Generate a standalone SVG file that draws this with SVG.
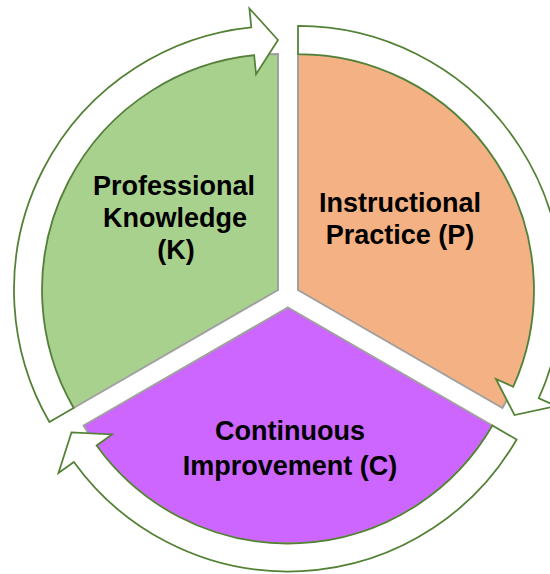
<svg xmlns="http://www.w3.org/2000/svg" width="550" height="574" viewBox="0 0 550 574">
  <style>
    .seg { stroke: #A0A0A0; stroke-width: 2; stroke-linejoin: miter; }
    .arrow { fill: #FFFFFF; stroke: #538135; stroke-width: 1.75; stroke-linejoin: miter; }
    .lbl { font-family: "Liberation Sans", Arial, sans-serif; font-weight: bold; font-size: 27px; fill: #000000; text-anchor: middle; }
  </style>
  <rect x="0" y="0" width="550" height="574" fill="#FFFFFF"/>
  <g id="node-knowledge">
    <path class="seg" fill="#A9D18E" d="M 278 290 L 73.62 408 A 236 236 0 0 1 278 54 Z"/>
    <text class="lbl" x="174" y="195">Professional</text>
    <text class="lbl" x="175" y="227">Knowledge</text>
    <text class="lbl" x="176" y="259">(K)</text>
  </g>
  <g id="node-practice">
    <path class="seg" fill="#F4B183" d="M 298 290 L 298 54 A 236 236 0 0 1 502.38 408 Z"/>
    <text class="lbl" x="400" y="212">Instructional</text>
    <text class="lbl" x="400" y="244">Practice (P)</text>
  </g>
  <g id="node-improvement">
    <path class="seg" fill="#CC66FF" d="M 288 307.5 L 492.38 425.5 A 236 236 0 0 1 83.62 425.5 Z"/>
    <text class="lbl" x="290" y="440">Continuous</text>
    <text class="lbl" x="290" y="475">Improvement (C)</text>
  </g>
  <g id="connectors">
    <path class="arrow" d="M 73.62 408 A 236 236 0 0 1 254.15 55.21 L 256.07 74.11 L 278 40 L 249.40 8.45 L 251.32 27.35 A 264 264 0 0 0 49.37 422 Z"/>
    <path class="arrow" d="M 298 54 A 236 236 0 0 1 513.26 386.74 L 495.93 378.95 L 514.51 415 L 556.13 406.01 L 538.80 398.22 A 264 264 0 0 0 298 26 Z"/>
    <path class="arrow" d="M 492.38 425.5 A 236 236 0 0 1 96.59 445.55 L 112.00 434.44 L 71.49 432.5 L 58.47 473.04 L 73.88 461.93 A 264 264 0 0 0 516.63 439.5 Z"/>
  </g>
</svg>
